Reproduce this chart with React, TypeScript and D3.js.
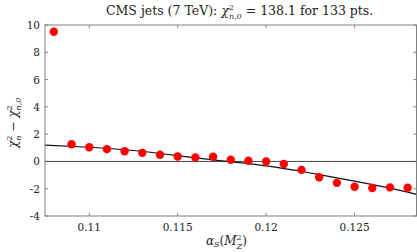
import { useEffect, useRef } from 'react'
import * as d3 from 'd3'

// chi^2 scan vs alpha_s
const alphaS = [0.108, 0.109, 0.11, 0.111, 0.112, 0.113, 0.114, 0.115, 0.116, 0.117, 0.118,
  0.119, 0.12, 0.121, 0.122, 0.123, 0.124, 0.125, 0.126, 0.127, 0.128]
const dChi2 = [9.5, 1.26, 1.04, 0.9, 0.75, 0.63, 0.49, 0.36, 0.29, 0.34, 0.12,
  0.05, 0.0, -0.19, -0.62, -1.16, -1.57, -1.86, -1.95, -1.9, -1.93]

// fitted curve
const fitX = [0.1075, 0.11, 0.1125, 0.115, 0.1175, 0.12, 0.1225, 0.125, 0.1275, 0.1285]
const fitY = [1.2, 1.04, 0.8, 0.43, 0.04, -0.33, -0.85, -1.45, -2.1, -2.42]

const xTicks = [0.11, 0.115, 0.12, 0.125]
const yTicks = [-4, -2, 0, 2, 4, 6, 8, 10]

const W = 417
const H = 252
const margin = { left: 45, right: 0.5, top: 25, bottom: 36 }
const FONT = "'DejaVu Serif', serif"

const App = () => {
  const ref = useRef<SVGSVGElement>(null)

  useEffect(() => {
    const svg = d3.select(ref.current)
    svg.selectAll('*').remove()

    const x = d3.scaleLinear().domain([0.1075, 0.1285]).range([margin.left, W - margin.right])
    const y = d3.scaleLinear().domain([-4, 10]).range([H - margin.bottom, margin.top])
    const frame = '#808080'

    const g = svg.append('g').style('font-family', FONT)

    // ticks, inward on all four sides
    const tl = 3
    xTicks.forEach((t) => {
      g.append('line').attr('x1', x(t)).attr('x2', x(t))
        .attr('y1', y(-4)).attr('y2', y(-4) - tl).attr('stroke', frame)
      g.append('line').attr('x1', x(t)).attr('x2', x(t))
        .attr('y1', y(10)).attr('y2', y(10) + tl).attr('stroke', frame)
      g.append('text').attr('x', x(t)).attr('y', y(-4) + 15)
        .attr('text-anchor', 'middle').attr('font-size', 10.5).attr('fill', '#222')
        .text(String(t))
    })
    yTicks.forEach((t) => {
      g.append('line').attr('x1', margin.left).attr('x2', margin.left + tl)
        .attr('y1', y(t)).attr('y2', y(t)).attr('stroke', frame)
      g.append('line').attr('x1', W - margin.right).attr('x2', W - margin.right - tl)
        .attr('y1', y(t)).attr('y2', y(t)).attr('stroke', frame)
      g.append('text').attr('x', 40).attr('y', y(t) + 4)
        .attr('text-anchor', 'end').attr('font-size', 10.5).attr('fill', '#222')
        .text(String(t))
    })

    // zero line
    g.append('line').attr('x1', margin.left).attr('x2', W - margin.right)
      .attr('y1', y(0)).attr('y2', y(0)).attr('stroke', '#444').attr('stroke-width', 1)

    // fit
    const line = d3.line<number>()
      .x((d, i) => x(fitX[i]))
      .y((d) => y(d))
      .curve(d3.curveNatural)
    g.append('path').datum(fitY).attr('d', line)
      .attr('fill', 'none').attr('stroke', '#111').attr('stroke-width', 1.2)

    // points
    g.selectAll('circle.pt').data(dChi2).enter().append('circle')
      .attr('class', 'pt')
      .attr('cx', (d, i) => x(alphaS[i]))
      .attr('cy', (d) => y(d))
      .attr('r', 4.2)
      .attr('fill', '#ff0000')

    // frame
    g.append('rect').attr('x', margin.left).attr('y', margin.top)
      .attr('width', W - margin.right - margin.left).attr('height', H - margin.bottom - margin.top)
      .attr('fill', 'none').attr('stroke', frame).attr('stroke-width', 1)

    // title
    const title = g.append('text').attr('x', 106).attr('y', 15)
      .attr('font-size', 12.5).attr('fill', '#222')
    title.append('tspan').text('CMS jets (7 TeV): ')
    title.append('tspan').attr('font-style', 'italic').text('χ')
    title.append('tspan').attr('font-size', 8).attr('dy', -5).text('2')
    title.append('tspan').attr('font-size', 8).attr('font-style', 'italic')
      .attr('dx', -5).attr('dy', 9).text('n,0')
    title.append('tspan').attr('dy', -4).text(' = 138.1 for 133 pts.')

    // x label
    const xl = g.append('text').attr('x', 206).attr('y', 245)
      .attr('font-size', 12).attr('fill', '#222')
    xl.append('tspan').attr('font-style', 'italic').text('α')
    xl.append('tspan').attr('font-size', 8).attr('font-style', 'italic').attr('dy', 2).text('S')
    xl.append('tspan').attr('dy', -2).text('(')
    xl.append('tspan').attr('font-style', 'italic').text('M')
    xl.append('tspan').attr('font-size', 8).attr('dy', -5).text('2')
    xl.append('tspan').attr('font-size', 8).attr('font-style', 'italic')
      .attr('dx', -5).attr('dy', 9).text('Z')
    xl.append('tspan').attr('dy', -4).text(')')

    // y label
    const yl = g.append('text').attr('transform', `translate(17, 148) rotate(-90)`)
      .attr('font-size', 12).attr('fill', '#222')
    yl.append('tspan').attr('font-style', 'italic').text('χ')
    yl.append('tspan').attr('font-size', 8).attr('dy', -5).text('2')
    yl.append('tspan').attr('font-size', 8).attr('font-style', 'italic')
      .attr('dx', -5).attr('dy', 9).text('n')
    yl.append('tspan').attr('dy', -4).text(' − ')
    yl.append('tspan').attr('font-style', 'italic').text('χ')
    yl.append('tspan').attr('font-size', 8).attr('dy', -5).text('2')
    yl.append('tspan').attr('font-size', 8).attr('font-style', 'italic')
      .attr('dx', -5).attr('dy', 9).text('n,0')
  }, [])

  return (
    <svg
      ref={ref}
      width={W}
      height={H}
      style={{ position: 'absolute', left: 0, top: 0, background: '#fff' }}
    />
  )
}

export default App
